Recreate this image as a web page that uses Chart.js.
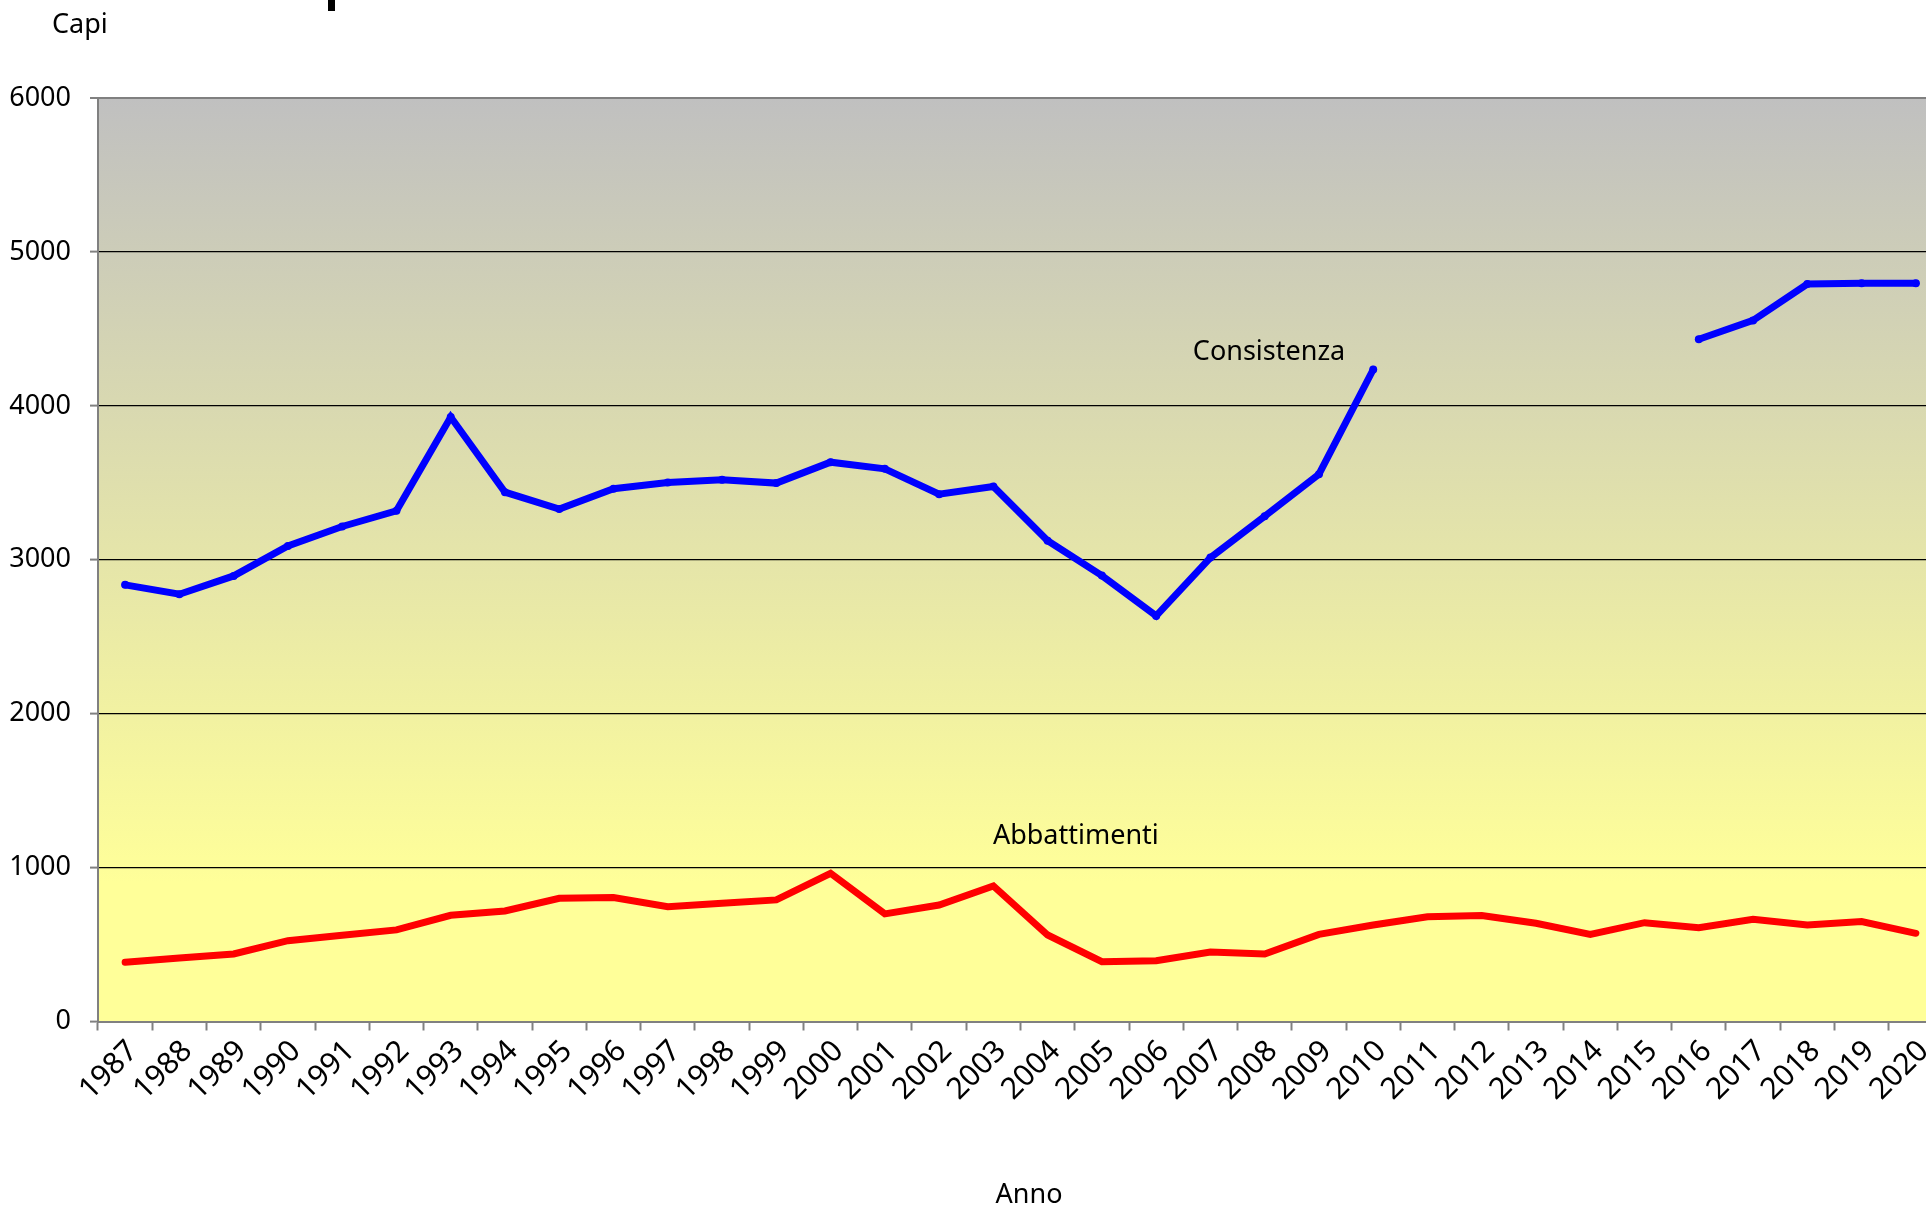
<!DOCTYPE html>
<html><head><meta charset="utf-8">
<script src="https://cdn.jsdelivr.net/npm/chart.js@4/dist/chart.umd.min.js"></script>
<style>
html,body{margin:0;padding:0;background:#fff;overflow:hidden;width:1926px;height:1208px;}
#wrap{width:1926px;height:1208px;overflow:hidden;position:relative;}
canvas{display:block;}
</style></head><body>
<div id="wrap"><canvas id="c" width="1960" height="1208"></canvas></div>
<script>
const years = ['1987','1988','1989','1990','1991','1992','1993','1994','1995','1996','1997','1998','1999','2000','2001','2002','2003','2004','2005','2006','2007','2008','2009','2010','2011','2012','2013','2014','2015','2016','2017','2018','2019','2020'];
const consistenza = [2837,2776,2895,3090,3216,3318,3927,3439,3329,3461,3502,3519,3498,3634,3591,3426,3476,3123,2897,2635,3014,3283,3556,4236,null,null,null,null,null,4433,4555,4791,4797,4797];
const abbattimenti = [385,412,439,525,560,595,690,718,800,805,746,768,790,963,699,757,881,562,389,395,452,439,566,627,681,688,638,566,642,610,664,627,649,573];
const yMin = 0, yMax = 6000, yStep = 1000;
const seriesNames = ['Consistenza','Abbattimenti'];
// label anchors in data units (category index, value)
const labelIndex = [21.08, 17.52];
const labelValue = [4348, 1202];

const FONT = '"Noto Sans", sans-serif';

const decor = {
  id: 'decor',
  beforeDraw(chart) {
    const {ctx, chartArea: a} = chart;
    const g = ctx.createLinearGradient(0, a.top, 0, a.bottom);
    g.addColorStop(0, '#c0c0c0');
    g.addColorStop(0.85, '#ffff99');
    g.addColorStop(1, '#ffff99');
    ctx.save();
    ctx.fillStyle = g;
    ctx.fillRect(a.left, a.top, a.right - a.left, a.bottom - a.top);
    ctx.restore();
  },
  afterDatasetsDraw(chart) {
    const {ctx, scales: {x, y}} = chart;
    ctx.save();
    ctx.font = '27px ' + FONT;
    ctx.fillStyle = '#000';
    ctx.textAlign = 'center';
    ctx.textBaseline = 'middle';
    seriesNames.forEach((n, i) => {
      ctx.fillText(n, x.getPixelForValue(labelIndex[i]), y.getPixelForValue(labelValue[i]));
    });
    ctx.restore();
  },
  afterDraw(chart) {
    const {ctx} = chart;
    ctx.save();
    ctx.font = '27px ' + FONT;
    ctx.fillStyle = '#000';
    ctx.textAlign = 'left';
    ctx.textBaseline = 'middle';
    ctx.fillText('Capi', 52, 25);
    ctx.textAlign = 'center';
    ctx.fillText('Anno', 1029, 1195);
    ctx.fillRect(328, 0, 7, 11);
    ctx.restore();
  }
};

new Chart(document.getElementById('c'), {
  type: 'line',
  data: {
    labels: years,
    datasets: [
      {label: seriesNames[0], data: consistenza, borderColor: '#0000ff', backgroundColor: '#0000ff',
       borderWidth: 7, pointRadius: 4, pointBorderWidth: 0, borderCapStyle: 'round', borderJoinStyle: 'miter', spanGaps: false, tension: 0},
      {label: seriesNames[1], data: abbattimenti, borderColor: '#ff0000', backgroundColor: '#ff0000',
       borderWidth: 7, pointRadius: 0, borderCapStyle: 'round', borderJoinStyle: 'miter', tension: 0}
    ]
  },
  options: {
    responsive: false,
    animation: false,
    layout: {padding: {top: 98, right: 17, left: 0, bottom: 0}},
    plugins: {legend: {display: false}, tooltip: {enabled: false}, title: {display: false}},
    scales: {
      x: {
        type: 'category',
        offset: true,
        grid: {display: true, drawOnChartArea: false, offset: true, tickLength: 9, tickColor: '#808080', tickWidth: 2},
        border: {display: true, color: '#808080', width: 2},
        ticks: {autoSkip: false, minRotation: 45, maxRotation: 45, color: '#000', font: {family: FONT, size: 30}, padding: 3, labelOffset: 8},
        title: {display: false, text: 'Anno'},
        afterFit(s) { s.height = 1208 - 1021.5; }
      },
      y: {
        min: yMin, max: yMax,
        grid: {color: (c) => (c.tick && (c.tick.value === yMax || c.tick.value === yMin)) ? '#808080' : '#000000',
               lineWidth: (c) => (c.tick && c.tick.value === yMax) ? 2 : 1.2,
               tickLength: 8, tickColor: '#808080', tickWidth: 2},
        border: {display: true, color: '#808080', width: 2},
        ticks: {stepSize: yStep, color: '#000', font: {family: FONT, size: 27}, padding: 19,
                callback: (v) => String(v)},
        afterFit(s) { s.width = 98; }
      }
    }
  },
  plugins: [decor]
});
</script>
</body></html>
